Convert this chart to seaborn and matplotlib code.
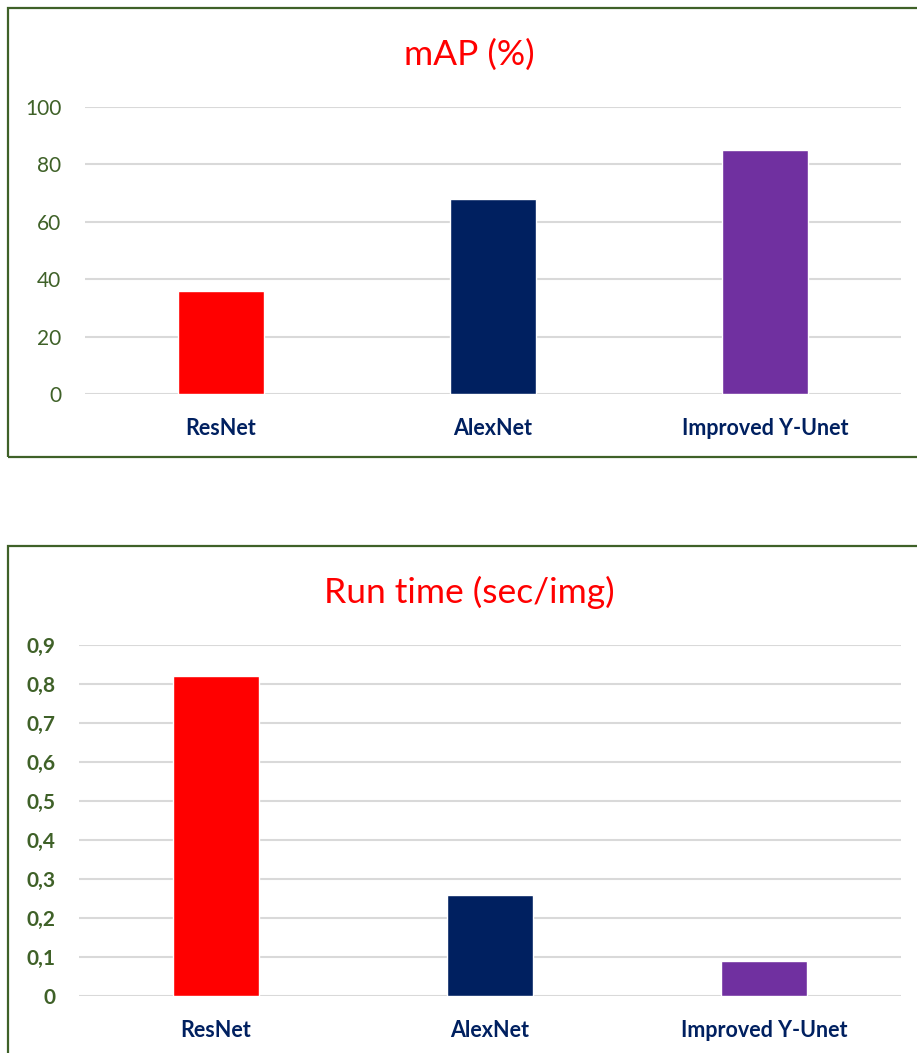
import matplotlib
matplotlib.use("Agg")
import matplotlib.pyplot as plt
from matplotlib.patches import Rectangle
import seaborn as sns
import pandas as pd

sns.set_style("white")
plt.rcParams['font.family'] = ['Lato', 'DejaVu Sans']

# data
models = ["ResNet", "AlexNet", "Improved Y-Unet"]
map_pct = [36, 68, 85]
run_time = [0.82, 0.26, 0.09]
bar_colors = ["#FF0000", "#002060", "#7030A0"]
map_ticks = [0, 20, 40, 60, 80, 100]
time_ticks = [0, 0.1, 0.2, 0.3, 0.4, 0.5, 0.6, 0.7, 0.8, 0.9]
time_labels = ["0", "0,1", "0,2", "0,3", "0,4", "0,5", "0,6", "0,7", "0,8", "0,9"]

GREEN = "#3F6128"
GRID = "#D9D9D9"
W, H = 917, 1053

fig = plt.figure(figsize=(W / 100, H / 100), dpi=100)

# panel frames (pixel -> figure coords)
def frame(x0, y0, x1, y1):
    fig.patches.append(Rectangle((x0 / W, 1 - y1 / H), (x1 - x0) / W, (y1 - y0) / H,
                                 transform=fig.transFigure, fill=False,
                                 edgecolor=GREEN, linewidth=1.6))

frame(8, 8, 930, 457)
frame(8, 546, 930, 1070)

def panel(rect, vals, title, ticks, labels, ylim, tick_bold, tick_size, pad, title_y):
    ax = fig.add_axes(rect)
    df = pd.DataFrame({"model": models, "val": vals})
    sns.barplot(data=df, x="model", y="val", hue="model", palette=bar_colors,
                width=0.316, legend=False, saturation=1, ax=ax)
    ax.set_xlim(-0.5, 2.5)
    ax.set_ylim(*ylim)
    ax.set_yticks(ticks)
    ax.set_yticklabels(labels, color=GREEN, fontsize=tick_size,
                       fontweight="bold" if tick_bold else "normal")
    ax.set_xticks(range(len(models)))
    ax.set_xticklabels(models, color="#002060", fontsize=15.5, fontweight="bold")
    ax.tick_params(axis="x", length=0, pad=17)
    ax.tick_params(axis="y", length=0, pad=pad)
    ax.set_xlabel("")
    ax.set_ylabel("")
    ax.grid(axis="y", color=GRID, linewidth=1.5)
    ax.set_axisbelow(True)
    for s in ax.spines.values():
        s.set_visible(False)
    fig.text(469 / W, 1 - title_y / H, title, color="#FF0000", fontsize=25.5,
             ha="center", va="center")
    return ax

panel([85 / W, 1 - 394 / H, 816 / W, 287 / H], map_pct, "mAP (%)",
      map_ticks, [str(t) for t in map_ticks], (0, 100), False, 15, 17, 55)
panel([79 / W, 1 - 996 / H, 822 / W, 351 / H], run_time, "Run time (sec/img)",
      time_ticks, time_labels, (0, 0.9), True, 15, 17, 592)

fig.savefig("out.png", dpi=100)
